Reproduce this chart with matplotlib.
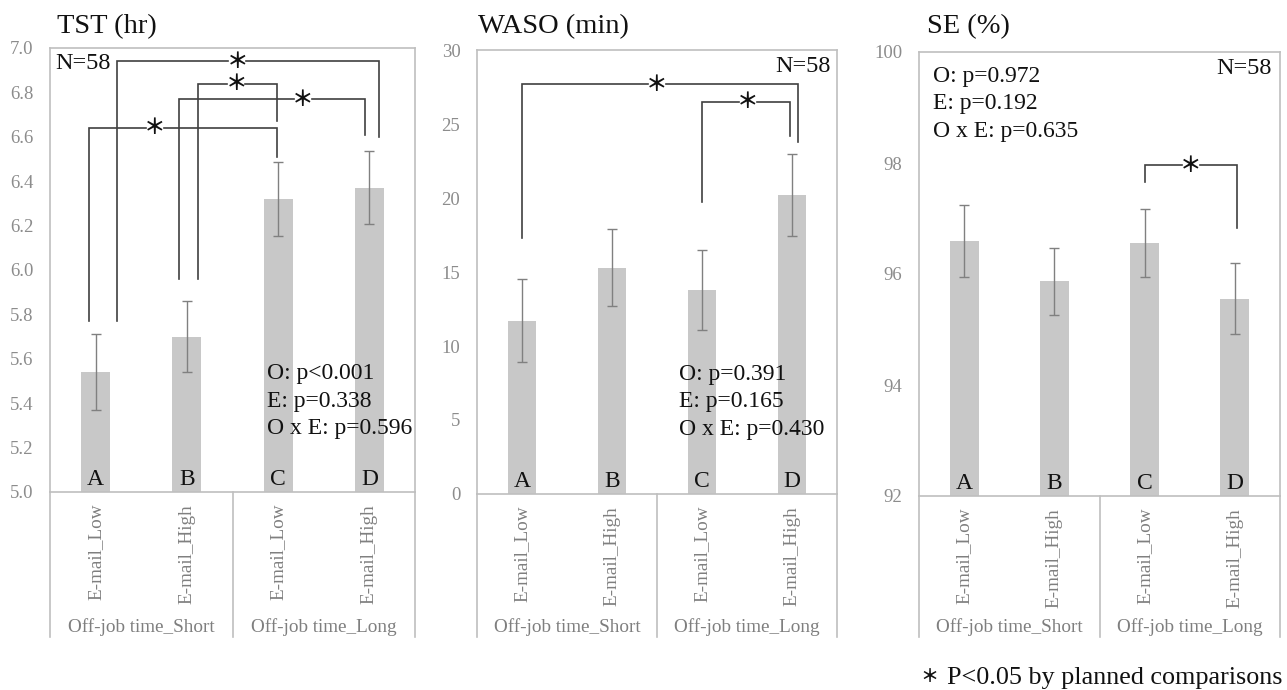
import matplotlib
matplotlib.use("Agg")
import matplotlib.pyplot as plt
from matplotlib.transforms import blended_transform_factory

plt.rcParams['font.family'] = ['Liberation Serif', 'DejaVu Serif']

# ---------------- data ----------------
categories = ["E-mail_Low", "E-mail_High", "E-mail_Low", "E-mail_High"]
groups = ["Off-job time_Short", "Off-job time_Long"]
letters = ["A", "B", "C", "D"]

titles = ["TST (hr)", "WASO (min)", "SE (%)"]

tst_mean = [5.54, 5.70, 6.32, 6.37]
tst_se = [0.17, 0.16, 0.165, 0.165]
waso_mean = [11.7, 15.3, 13.8, 20.2]
waso_se = [2.8, 2.6, 2.7, 2.75]
se_mean = [96.59, 95.87, 96.56, 95.55]
se_se = [0.65, 0.60, 0.62, 0.64]

tst_ylim = (5.0, 7.0)
tst_ticks = [5.0, 5.2, 5.4, 5.6, 5.8, 6.0, 6.2, 6.4, 6.6, 6.8, 7.0]
waso_ylim = (0, 30)
waso_ticks = [0, 5, 10, 15, 20, 25, 30]
se_ylim = (92, 100)
se_ticks = [92, 94, 96, 98, 100]

tst_pvals = ["O: p<0.001", "E: p=0.338", "O x E: p=0.596"]
waso_pvals = ["O: p=0.391", "E: p=0.165", "O x E: p=0.430"]
se_pvals = ["O: p=0.972", "E: p=0.192", "O x E: p=0.635"]
n_label = "N=58"

# brackets: (x_left, x_right, y_bar, y_left_end, y_right_end, x_star)
tst_brackets = [(-0.07, 1.99, 6.64, 5.77, 6.51, 0.65),
                (0.23, 3.11, 6.94, 5.77, 6.60, 1.55),
                (0.915, 2.95, 6.77, 5.96, 6.61, 2.27),
                (1.12, 1.99, 6.84, 5.96, 6.67, 1.54)]
waso_brackets = [(0.0, 3.07, 27.7, 17.3, 23.8, 1.5),
                 (2.0, 2.98, 26.5, 19.7, 24.2, 2.51)]
se_brackets = [(2.0, 3.02, 97.96, 97.66, 96.83, 2.51)]

footnote = "P<0.05 by planned comparisons"

# ---------------- style ----------------
W, H = 1287, 690
BAR = "#c8c8c8"
ERR = "#808080"
FRAME = "#bfbfbf"
BRK = "#404040"
TICKC = "#8c8c8c"
CATC = "#7f7f7f"
STAR_FONT = ['Noto Sans CJK JP', 'DejaVu Sans']

fig = plt.figure(figsize=(W / 100, H / 100), dpi=100)

# axes pixel boxes: left, right, top, bottom
boxes = [(50, 415, 48, 492), (477, 837, 50, 494), (919, 1280, 52, 496)]
title_x = [57, 478, 927]

means = [tst_mean, waso_mean, se_mean]
ses = [tst_se, waso_se, se_se]
ylims = [tst_ylim, waso_ylim, se_ylim]
yticks = [tst_ticks, waso_ticks, se_ticks]
fmts = ["{:.1f}", "{:d}", "{:d}"]
brackets = [tst_brackets, waso_brackets, se_brackets]
pvals = [tst_pvals, waso_pvals, se_pvals]
# p-value text: left x pixel, first baseline pixel
pv_pix = [(267, 379), (679, 380), (933, 82)]
PV_STEP = 27.5
# N label positions (pixel x, pixel top, ha)
n_pix = [(55, 53, 'left'), (831, 56, 'right'), (1272, 58, 'right')]
STAR_GAP_PX = 9

for i in range(3):
    l, r, t, b = boxes[i]
    hpx = b - t
    wpx = r - l
    ax = fig.add_axes([l / W, (H - b) / H, wpx / W, hpx / H])
    x = list(range(len(categories)))
    ax.bar(x, means[i], width=0.32, color=BAR, zorder=1)
    ax.errorbar(x, means[i], yerr=ses[i], fmt='none', ecolor=ERR,
                elinewidth=1.0, capsize=3.3, capthick=1.0, zorder=2)
    ax.set_xlim(-0.5, 3.5)
    ax.set_ylim(*ylims[i])
    ax.set_yticks(yticks[i])
    ax.set_yticklabels([fmts[i].format(v) for v in yticks[i]])
    ax.tick_params(axis='y', length=0, pad=12, labelsize=13.5, labelcolor=TICKC)
    ax.set_xticks([])
    for s in ax.spines.values():
        s.set_color(FRAME)
        s.set_linewidth(1.2)

    # letters at the bottom of bars
    for xi, lt in zip(x, letters):
        ax.annotate(lt, (xi, ylims[i][0]), xytext=(0, 5), textcoords='offset points',
                    ha='center', va='baseline', fontsize=17, color='#111111')

    # brackets (horizontal line broken around the star)
    gap = STAR_GAP_PX * 4.0 / wpx
    for (x1, x2, yb, yl, yr, xs) in brackets[i]:
        ax.plot([xs - gap, x1, x1], [yb, yb, yl], color=BRK, lw=1.2,
                solid_joinstyle='miter', zorder=3)
        ax.plot([xs + gap, x2, x2], [yb, yb, yr], color=BRK, lw=1.2,
                solid_joinstyle='miter', zorder=3)
        ax.text(xs, yb, "＊", ha='center', va='center', fontsize=15.5, fontweight='bold',
                family=STAR_FONT, color='#111111', zorder=4)

    # p-values
    px, py = pv_pix[i]
    for k, line in enumerate(pvals[i]):
        ax.text((px - l) / wpx, (b - (py + k * PV_STEP)) / hpx, line,
                transform=ax.transAxes, ha='left', va='baseline',
                fontsize=17, color='#111111', zorder=5)
    # N
    nx, ny, nha = n_pix[i]
    ax.text((nx - l) / wpx, (b - ny) / hpx, n_label, transform=ax.transAxes,
            ha=nha, va='top', fontsize=17.5, color='#111111')

    # category axis (multi-level)
    depth = (637 - b) / hpx
    for xf in (0.0, 0.5, 1.0):
        ax.plot([xf, xf], [0, -depth], transform=ax.transAxes, color=FRAME,
                lw=1.2, clip_on=False)
    trans = blended_transform_factory(ax.transData, ax.transAxes)
    for xi, c in zip(x, categories):
        ax.text(xi, -12 / hpx, c, transform=trans, rotation=90,
                ha='center', va='top', fontsize=13.8, color=CATC)
    for gi, g in enumerate(groups):
        ax.text(0.25 + 0.5 * gi, -(627 - b) / hpx, g, transform=ax.transAxes,
                ha='center', va='center', fontsize=13.8, color=CATC)

    fig.text(title_x[i] / W, (H - 33) / H, titles[i], ha='left', va='baseline',
             fontsize=20.5, color='#111111')

# footnote
fig.text(929 / W, (H - 677) / H, "＊", ha='center', va='center', fontsize=13,
         fontweight='bold', family=STAR_FONT, color='#111111')
fig.text(947 / W, (H - 684) / H, footnote, ha='left', va='baseline',
         fontsize=18.8, color='#111111')

fig.savefig("out.png", dpi=100)
